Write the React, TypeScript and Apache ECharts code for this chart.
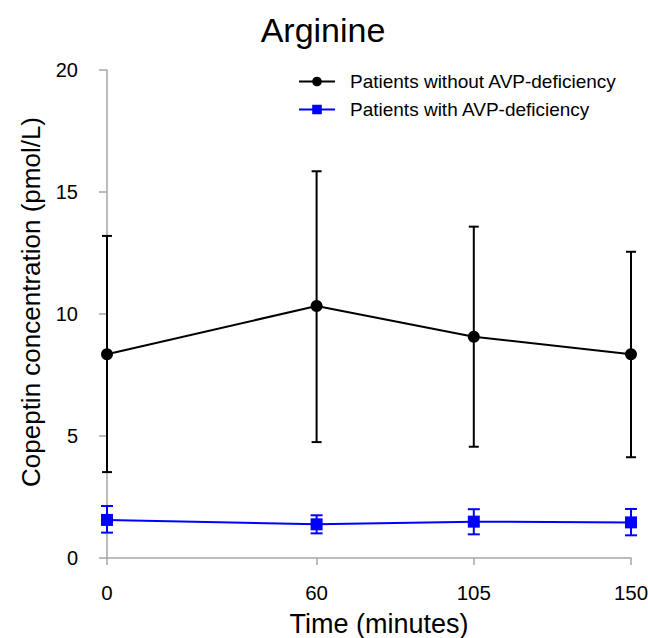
import React, { useEffect, useRef } from "react";
import * as echarts from "echarts";

const times = [0, 60, 105, 150];
const xTickLabels = [0, 60, 105, 150];
const yTicks = [0, 5, 10, 15, 20];

const withoutName = "Patients without AVP-deficiency";
const withoutMean = [8.35, 10.33, 9.07, 8.35];
const withoutLow = [3.52, 4.75, 4.56, 4.13];
const withoutHigh = [13.2, 15.85, 13.58, 12.55];

const withName = "Patients with AVP-deficiency";
const withMean = [1.56, 1.38, 1.49, 1.46];
const withLow = [1.04, 1.01, 0.97, 0.93];
const withHigh = [2.13, 1.75, 2.0, 2.01];

const FONT = "'Liberation Sans', Arial, Helvetica, sans-serif";

function errorSeries(low: number[], high: number[], color: string, cap: number) {
  return {
    type: "custom",
    silent: true,
    z: 1,
    encode: { x: 0, y: [1, 2] },
    data: times.map((t, i) => [t, low[i], high[i]]),
    renderItem: (params: any, api: any) => {
      const x = api.value(0);
      const lo = api.coord([x, api.value(1)]);
      const hi = api.coord([x, api.value(2)]);
      const style = { stroke: color, lineWidth: 2 };
      return {
        type: "group",
        children: [
          { type: "line", shape: { x1: lo[0], y1: lo[1], x2: hi[0], y2: hi[1] }, style },
          { type: "line", shape: { x1: hi[0] - cap / 2, y1: hi[1], x2: hi[0] + cap / 2, y2: hi[1] }, style },
          { type: "line", shape: { x1: lo[0] - cap / 2, y1: lo[1], x2: lo[0] + cap / 2, y2: lo[1] }, style },
        ],
      };
    },
  };
}

export default function App() {
  const ref = useRef<HTMLDivElement>(null);
  useEffect(() => {
    if (!ref.current) return;
    const chart = echarts.init(ref.current, undefined, { renderer: "svg" });
    const axisColor = "#a6a6a6";
    chart.setOption({
      animation: false,
      backgroundColor: "#fff",
      textStyle: { fontFamily: FONT },
      title: {
        text: "Arginine",
        left: 318,
        textAlign: "center",
        top: 8,
        textStyle: { fontFamily: FONT, fontSize: 34, fontWeight: "normal", color: "#000" },
      },
      legend: {
        data: [withoutName, withName],
        orient: "vertical",
        left: 293,
        top: 67,
        itemWidth: 36,
        itemHeight: 12,
        itemGap: 9,
        textStyle: { fontFamily: FONT, fontSize: 19, color: "#000", padding: [0, 0, 0, 10] },
      },
      grid: { left: 107, right: 17, top: 70, bottom: 80, containLabel: false, outerBoundsMode: "none" },
      xAxis: {
        type: "value",
        min: 0,
        max: 150,
        offset: 15,
        name: "Time (minutes)",
        nameLocation: "middle",
        nameGap: 37,
        nameTextStyle: { fontFamily: FONT, fontSize: 27, color: "#000", padding: [0, 0, 0, 20] },
        axisLine: { show: true, lineStyle: { color: axisColor, width: 1.5 } },
        axisTick: { show: true, length: 7, lineStyle: { color: axisColor, width: 1.5 }, customValues: xTickLabels },
        axisLabel: { fontFamily: FONT, fontSize: 20.5, color: "#000", margin: 9, customValues: xTickLabels },
        splitLine: { show: false },
      },
      yAxis: {
        type: "value",
        min: 0,
        max: 20,
        interval: 5,
        offset: 15,
        name: "Copeptin concentration (pmol/L)",
        nameLocation: "middle",
        nameGap: 48,
        nameTextStyle: { fontFamily: FONT, fontSize: 26, color: "#000", padding: [0, 0, 0, 24] },
        axisLine: { show: true, lineStyle: { color: axisColor, width: 1.5 } },
        axisTick: { show: true, length: 8, lineStyle: { color: axisColor, width: 1.5 }, customValues: yTicks },
        axisLabel: { fontFamily: FONT, fontSize: 20, color: "#000", margin: 14, customValues: yTicks },
        splitLine: { show: false },
      },
      series: [
        errorSeries(withoutLow, withoutHigh, "#000", 10),
        errorSeries(withLow, withHigh, "#0000ff", 12),
        {
          name: withoutName,
          type: "line",
          z: 3,
          data: times.map((t, i) => [t, withoutMean[i]]),
          symbol: "circle",
          symbolSize: 12,
          lineStyle: { color: "#000", width: 2 },
          itemStyle: { color: "#000" },
        },
        {
          name: withName,
          type: "line",
          z: 3,
          data: times.map((t, i) => [t, withMean[i]]),
          symbol: "rect",
          symbolSize: 12,
          lineStyle: { color: "#0000ff", width: 2 },
          itemStyle: { color: "#0000ff" },
        },
      ],
    });
    return () => chart.dispose();
  }, []);
  return <div ref={ref} style={{ width: 648, height: 638, position: "absolute", left: 0, top: 0 }} />;
}
